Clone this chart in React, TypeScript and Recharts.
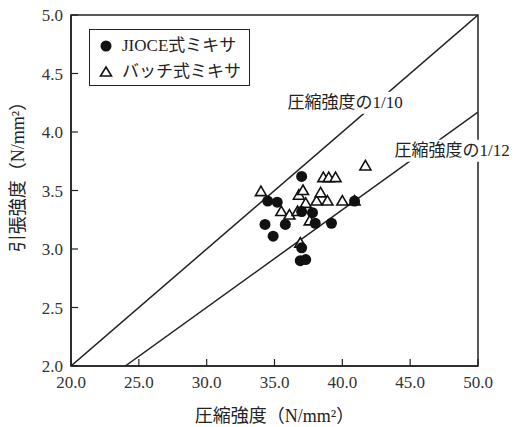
import { ReferenceArea, ReferenceDot, Scatter, ScatterChart, XAxis, YAxis } from 'recharts';

// JIOCE式ミキサ（黒丸）
const jiocePoints = [
  { x: 34.3, y: 3.21 },
  { x: 34.5, y: 3.41 },
  { x: 35.2, y: 3.4 },
  { x: 34.9, y: 3.11 },
  { x: 35.8, y: 3.21 },
  { x: 37.0, y: 3.62 },
  { x: 37.0, y: 3.32 },
  { x: 37.8, y: 3.31 },
  { x: 38.0, y: 3.22 },
  { x: 37.0, y: 3.01 },
  { x: 36.9, y: 2.9 },
  { x: 37.3, y: 2.91 },
  { x: 39.2, y: 3.22 },
  { x: 40.9, y: 3.41 },
];

// バッチ式ミキサ（白三角）
const batchPoints = [
  { x: 34.0, y: 3.49 },
  { x: 35.5, y: 3.32 },
  { x: 36.1, y: 3.29 },
  { x: 36.7, y: 3.32 },
  { x: 36.8, y: 3.46 },
  { x: 37.1, y: 3.5 },
  { x: 37.3, y: 3.39 },
  { x: 36.9, y: 3.05 },
  { x: 37.6, y: 3.24 },
  { x: 38.1, y: 3.41 },
  { x: 38.4, y: 3.48 },
  { x: 38.9, y: 3.41 },
  { x: 40.0, y: 3.41 },
  { x: 40.9, y: 3.41 },
  { x: 38.6, y: 3.61 },
  { x: 39.0, y: 3.61 },
  { x: 39.5, y: 3.61 },
  { x: 41.7, y: 3.71 },
];

const ratio10Line = [
  { x: 20, y: 2.0 },
  { x: 50, y: 5.0 },
];
const ratio12Line = [
  { x: 24, y: 2.0 },
  { x: 50, y: 4.17 },
];

const xTicks = [20, 25, 30, 35, 40, 45, 50];
const yTicks = [2.0, 2.5, 3.0, 3.5, 4.0, 4.5, 5.0];

const lineLabels = [
  { x: 40.2, y: 4.25, text: '圧縮強度の1/10' },
  { x: 48.1, y: 3.84, text: '圧縮強度の1/12' },
];

const FONT = '"Liberation Serif", "Noto Sans CJK JP", serif';
const INK = '#222';

function FilledDot(props: any) {
  return <circle cx={props.cx} cy={props.cy} r={5.5} fill="#111" />;
}

function OpenTriangle(props: any) {
  const { cx, cy } = props;
  return (
    <path
      d={`M${cx},${cy - 5.5} L${cx + 5.5},${cy + 4} L${cx - 5.5},${cy + 4} Z`}
      fill="#fff"
      stroke="#111"
      strokeWidth={1.6}
    />
  );
}

const noDot = () => <g />;

function makeLineLabel(text: string) {
  return (props: any) => {
    const { x, y } = props.viewBox;
    const w = 130;
    return (
      <g>
        <rect x={x - w / 2} y={y - 11} width={w} height={22} fill="#fff" />
        <text x={x} y={y} textAnchor="middle" dominantBaseline="central" fontSize={17} fontFamily={FONT} fill={INK}>
          {text}
        </text>
      </g>
    );
  };
}

export default function App() {
  return (
    <div style={{ position: 'absolute', left: 0, top: 0, width: 518, height: 427, background: '#fff' }}>
      <ScatterChart width={518} height={427} margin={{ top: 15, right: 40, bottom: 0, left: 0 }}>
        <XAxis
          type="number"
          dataKey="x"
          domain={[20, 50]}
          ticks={xTicks}
          allowDataOverflow
          height={61}
          tickFormatter={(v) => Number(v).toFixed(1)}
          tickSize={-7}
          tickMargin={17}
          axisLine={{ stroke: INK, strokeWidth: 1.5 }}
          tickLine={{ stroke: INK, strokeWidth: 1.2 }}
          tick={{ fontSize: 17, fill: '#333', fontFamily: FONT }}
          label={(p: any) => (
            <text
              x={p.viewBox.x + p.viewBox.width / 2}
              y={p.viewBox.y + 56}
              textAnchor="middle"
              fontSize={18}
              fontFamily={FONT}
              fill={INK}
            >
              圧縮強度（N/mm²）
            </text>
          )}
        />
        <YAxis
          type="number"
          dataKey="y"
          domain={[2, 5]}
          ticks={yTicks}
          allowDataOverflow
          width={71}
          tickFormatter={(v) => Number(v).toFixed(1)}
          tickSize={-7}
          tickMargin={15}
          axisLine={{ stroke: INK, strokeWidth: 1.5 }}
          tickLine={{ stroke: INK, strokeWidth: 1.2 }}
          tick={{ fontSize: 17, fill: '#333', fontFamily: FONT }}
          label={(p: any) => {
            const cx = 18;
            const cy = p.viewBox.y + p.viewBox.height / 2 - 18;
            return (
              <text
                x={cx}
                y={cy}
                transform={`rotate(-90, ${cx}, ${cy})`}
                textAnchor="middle"
                dominantBaseline="central"
                fontSize={18}
                fontFamily={FONT}
                fill={INK}
              >
                引張強度（N/mm²）
              </text>
            );
          }}
        />
        <ReferenceArea x1={20} x2={50} y1={2} y2={5} fill="none" stroke={INK} strokeWidth={1.5} ifOverflow="visible" />
        <Scatter data={ratio10Line} line={{ stroke: INK, strokeWidth: 1.5 }} shape={noDot} legendType="none" isAnimationActive={false} />
        <Scatter data={ratio12Line} line={{ stroke: INK, strokeWidth: 1.5 }} shape={noDot} legendType="none" isAnimationActive={false} />
        <Scatter name="バッチ式ミキサ" data={batchPoints} shape={OpenTriangle} isAnimationActive={false} />
        <Scatter name="JIOCE式ミキサ" data={jiocePoints} shape={FilledDot} isAnimationActive={false} />
        {lineLabels.map((l) => (
          <ReferenceDot key={l.text} x={l.x} y={l.y} r={0} ifOverflow="visible" label={makeLineLabel(l.text)} />
        ))}
      </ScatterChart>
      <div
        style={{
          position: 'absolute',
          left: 89,
          top: 29,
          width: 161,
          height: 57,
          boxSizing: 'border-box',
          border: `1.5px solid ${INK}`,
          fontFamily: FONT,
          fontSize: 17,
          color: INK,
          padding: '3px 0 0 9px',
          lineHeight: '26px',
        }}
      >
        <div style={{ display: 'flex', alignItems: 'center' }}>
          <svg width={14} height={14} style={{ marginRight: 9 }}>
            <circle cx={7} cy={7} r={5.5} fill="#111" />
          </svg>
          JIOCE式ミキサ
        </div>
        <div style={{ display: 'flex', alignItems: 'center' }}>
          <svg width={14} height={14} style={{ marginRight: 9 }}>
            <path d="M7,2 L12.5,11 L1.5,11 Z" fill="#fff" stroke="#111" strokeWidth={1.6} />
          </svg>
          バッチ式ミキサ
        </div>
      </div>
    </div>
  );
}
